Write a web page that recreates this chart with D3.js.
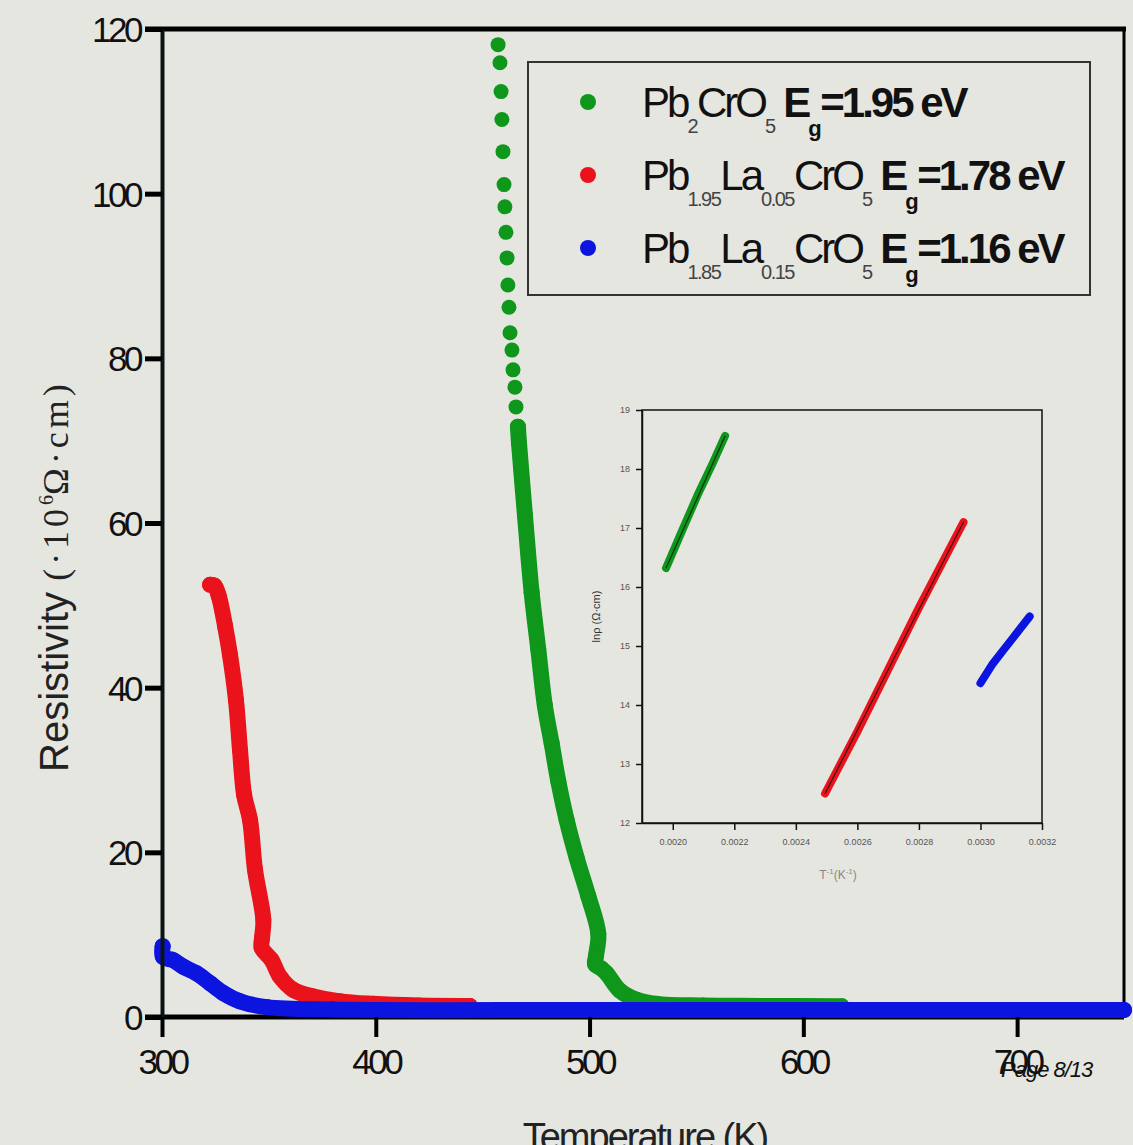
<!DOCTYPE html>
<html>
<head>
<meta charset="utf-8">
<script src="https://cdn.jsdelivr.net/npm/d3@7"></script>
<style>
  html, body { margin: 0; padding: 0; background: #e6e6e1; }
  svg { display: block; }
</style>
</head>
<body>
<svg id="chart" width="1133" height="1145"></svg>
<script>
// ---- Resistivity vs temperature, [T (K), rho (10^6 Ohm.cm)] ----
// Pb2CrO5: isolated points at the top of the steep rise
const pb2Sparse = [
  [457.2, 118.1], [458.1, 115.9], [458.6, 112.4], [459.0, 109.0], [459.5, 105.1],
  [460.0, 101.1], [460.4, 98.4], [460.9, 95.3], [461.4, 92.2], [461.8, 88.9],
  [462.3, 86.2], [462.8, 83.1], [463.7, 81.0], [464.2, 78.6], [465.1, 76.5],
  [465.6, 74.1], [466.5, 71.7]
];
// Pb2CrO5: densely sampled part
const pb2Dense = [
  [466.5, 71.7], [467.0, 69.7], [469.8, 60.9], [472.9, 51.6], [476.0, 44.7],
  [479.1, 37.8], [482.3, 33.2], [485.4, 28.6], [489.3, 23.9], [494.0, 19.3],
  [499.4, 14.7], [504.1, 10.1], [503.0, 7.4], [502.6, 6.4], [505.5, 5.9],
  [508.0, 5.3], [514.2, 3.2], [522.0, 2.1], [531.4, 1.6], [553.0, 1.4],
  [580.0, 1.35], [618.0, 1.3]
];
// Pb1.95La0.05CrO5
const la005 = [
  [322.5, 52.5], [324.5, 52.4], [326.5, 51.2], [329.5, 47.5], [331.8, 44.0],
  [334.6, 38.5], [336.5, 32.4], [338.4, 27.0], [341.2, 23.9], [343.5, 17.9],
  [347.4, 11.8], [346.8, 9.6], [346.6, 8.4], [351.3, 6.9], [355.2, 4.9],
  [361.4, 3.3], [370.8, 2.5], [383.3, 1.9], [398.7, 1.6], [420.0, 1.4],
  [444.0, 1.35]
];
// Pb1.85La0.15CrO5
const la015 = [
  [300.3, 8.6], [300.5, 7.3], [305.3, 6.9], [310.0, 6.1], [316.2, 5.3],
  [322.5, 4.1], [328.7, 2.9], [336.5, 1.9], [349.0, 1.2], [380.0, 0.9],
  [500.0, 0.85], [650.0, 0.85], [750.0, 0.85]
];

// ---- Inset: ln(rho) vs 1/T ----
const insetPb2 = [[0.001978, 16.32], [0.00203, 16.95], [0.00208, 17.55], [0.00213, 18.1], [0.00217, 18.56]];
const insetLa005 = [[0.002495, 12.5], [0.00260, 13.55], [0.00270, 14.6], [0.00280, 15.65], [0.00290, 16.65], [0.002945, 17.1]];
const insetLa015 = [[0.00300, 14.37], [0.00304, 14.7], [0.00307, 14.9], [0.00310, 15.1], [0.00313, 15.3], [0.00316, 15.5]];

// ---- Ticks ----
const xTicks = [300, 400, 500, 600, 700];
const yTicks = [0, 20, 40, 60, 80, 100, 120];
const insetXTicks = [0.0020, 0.0022, 0.0024, 0.0026, 0.0028, 0.0030, 0.0032];
const insetYTicks = [12, 13, 14, 15, 16, 17, 18, 19];

// ---- Legend ----
const seriesColors = ["#0f971c", "#ea131b", "#0c15e0"];
const legendRows = [
  [{t: "Pb"}, {t: "2", sub: true}, {t: "CrO"}, {t: "5", sub: true}, {t: " E", bold: true}, {t: "g", sub: true, bold: true}, {t: "=1.95 eV", bold: true}],
  [{t: "Pb"}, {t: "1.95", sub: true}, {t: "La"}, {t: "0.05", sub: true}, {t: "CrO"}, {t: "5", sub: true}, {t: " E", bold: true}, {t: "g", sub: true, bold: true}, {t: "=1.78 eV", bold: true}],
  [{t: "Pb"}, {t: "1.85", sub: true}, {t: "La"}, {t: "0.15", sub: true}, {t: "CrO"}, {t: "5", sub: true}, {t: " E", bold: true}, {t: "g", sub: true, bold: true}, {t: "=1.16 eV", bold: true}]
];

const svg = d3.select("#chart");
const sans = "'Liberation Sans', Arial, sans-serif";
const serif = "'Liberation Serif', 'Times New Roman', serif";

svg.append("rect").attr("width", 1133).attr("height", 1145).attr("fill", "#e6e6e1");

// ---- Main scales ----
const x = d3.scaleLinear().domain([300, 750]).range([162, 1124]);
const y = d3.scaleLinear().domain([0, 120]).range([1017, 29]);

// zero line of the y scale, partly hidden under the data
svg.append("line").attr("x1", 145).attr("x2", x(750)).attr("y1", y(0)).attr("y2", y(0))
  .attr("stroke", "#000").attr("stroke-width", 5);

// frame: top and right edges
svg.append("line").attr("x1", 145).attr("x2", 1126).attr("y1", y(120)).attr("y2", y(120))
  .attr("stroke", "#000").attr("stroke-width", 5);
svg.append("line").attr("x1", x(750)).attr("x2", x(750)).attr("y1", y(120)).attr("y2", y(0))
  .attr("stroke", "#000").attr("stroke-width", 3);

// ---- Data marks ----
const R = 8;
const line = d3.line().x(d => x(d[0])).y(d => y(d[1])).curve(d3.curveCatmullRom.alpha(0.5));

function drawBand(g, data, color) {
  g.append("path").datum(data).attr("d", line)
    .attr("fill", "none").attr("stroke", color).attr("stroke-width", 2 * R)
    .attr("stroke-linejoin", "round").attr("stroke-linecap", "round");
  g.selectAll(null).data(data).enter().append("circle")
    .attr("cx", d => x(d[0])).attr("cy", d => y(d[1])).attr("r", R).attr("fill", color);
}

const marks = svg.append("g");
const gGreen = marks.append("g");
gGreen.selectAll(null).data(pb2Sparse).enter().append("circle")
  .attr("cx", d => x(d[0])).attr("cy", d => y(d[1])).attr("r", 7.5).attr("fill", seriesColors[0]);
drawBand(gGreen, pb2Dense, seriesColors[0]);
drawBand(marks.append("g"), la005, seriesColors[1]);
drawBand(marks.append("g"), la015, seriesColors[2]);

// ---- Axes ----
const yAxis = d3.axisLeft(y).tickValues(yTicks).tickSize(17).tickSizeOuter(0).tickPadding(5)
  .tickFormat(d3.format("d"));
const yAxisG = svg.append("g").attr("transform", `translate(${x(300)},0)`).call(yAxis);
yAxisG.select(".domain").attr("stroke", "#0b1414").attr("stroke-width", 4);
yAxisG.selectAll(".tick line").attr("stroke", "#000").attr("stroke-width", 5);
yAxisG.selectAll(".tick text").attr("font-family", sans).attr("font-size", 35)
  .attr("letter-spacing", -3.5).attr("fill", "#111").attr("dy", "0.36em");

const xAxisG = svg.append("g").attr("transform", `translate(0,${y(0)})`);
xAxisG.call(d3.axisBottom(x).tickValues(xTicks).tickSize(20).tickSizeOuter(0).tickPadding(12)
  .tickFormat(d3.format("d")));
xAxisG.select(".domain").remove();
xAxisG.selectAll(".tick line").attr("stroke", "#000").attr("stroke-width", 4);
xAxisG.selectAll(".tick text").attr("font-family", sans).attr("font-size", 35)
  .attr("letter-spacing", -3.5).attr("fill", "#111");

// axis titles
svg.append("text").attr("transform", `translate(68,772) rotate(-90)`)
  .attr("text-anchor", "start").attr("font-family", sans).attr("font-size", 40).attr("fill", "#222")
  .call(t => {
    t.append("tspan").text("Resistivity ");
    t.append("tspan").attr("font-family", serif).attr("font-size", 36).attr("letter-spacing", 4).text("(·10");
    t.append("tspan").attr("font-family", serif).attr("font-size", 20).attr("dy", -15).text("6");
    t.append("tspan").attr("font-family", serif).attr("font-size", 36).attr("letter-spacing", 4).attr("dy", 15).text("Ω·cm)");
  });

svg.append("text").attr("x", 645).attr("y", 1150).attr("text-anchor", "middle")
  .attr("font-family", sans).attr("font-size", 38).attr("letter-spacing", -2).attr("fill", "#222")
  .text("Temperature (K)");

// ---- Legend ----
const leg = svg.append("g");
leg.append("rect").attr("x", 528).attr("y", 62).attr("width", 562).attr("height", 233)
  .attr("fill", "none").attr("stroke", "#333").attr("stroke-width", 2);
const rowY = [117, 190, 263];
legendRows.forEach((row, i) => {
  leg.append("circle").attr("cx", 588).attr("cy", rowY[i] - 15).attr("r", 8).attr("fill", seriesColors[i]);
  const t = leg.append("text").attr("x", 642).attr("y", rowY[i])
    .attr("font-family", sans).attr("font-size", 42).attr("letter-spacing", -3).attr("fill", "#111");
  let shift = 0;
  row.forEach(seg => {
    const s = t.append("tspan").text(seg.t);
    const target = seg.sub ? (seg.bold ? 19 : 16) : 0;
    if (target !== shift) { s.attr("dy", target - shift); shift = target; }
    if (seg.sub) s.attr("font-size", seg.bold ? 22 : 20).attr("letter-spacing", -1.5)
      .attr("fill", seg.bold ? "#111" : "#444");
    if (seg.bold) s.attr("font-weight", "bold");
  });
});

// ---- Inset ----
const ix = d3.scaleLinear().domain([0.0019, 0.0032]).range([642, 1042]);
const iy = d3.scaleLinear().domain([12, 19]).range([823, 410]);
const inset = svg.append("g");
inset.append("rect").attr("x", ix(0.0019)).attr("y", iy(19)).attr("width", ix(0.0032) - ix(0.0019))
  .attr("height", iy(12) - iy(19)).attr("fill", "none").attr("stroke", "#111").attr("stroke-width", 1.5);
const iyAxis = inset.append("g").attr("transform", `translate(${ix(0.0019)},0)`)
  .call(d3.axisLeft(iy).tickValues(insetYTicks).tickSize(6).tickSizeOuter(0).tickPadding(6).tickFormat(d3.format("d")));
const ixAxis = inset.append("g").attr("transform", `translate(0,${iy(12)})`)
  .call(d3.axisBottom(ix).tickValues(insetXTicks).tickSize(7).tickSizeOuter(0).tickPadding(9).tickFormat(d3.format(".4f")));
[iyAxis, ixAxis].forEach(a => {
  a.select(".domain").attr("stroke", "#111").attr("stroke-width", 1.5);
  a.selectAll(".tick line").attr("stroke", "#111").attr("stroke-width", 1.5);
  a.selectAll(".tick text").attr("font-family", sans).attr("font-size", 9).attr("fill", "#555");
});
inset.append("text").attr("transform", `translate(600,${(iy(12) + iy(19)) / 2}) rotate(-90)`)
  .attr("text-anchor", "middle").attr("font-family", sans).attr("font-size", 11).attr("fill", "#333")
  .text("lnρ (Ω·cm)");
inset.append("text").attr("x", 838).attr("y", 879).attr("text-anchor", "middle")
  .attr("font-family", sans).attr("font-size", 12).attr("fill", "#888")
  .call(t => {
    t.append("tspan").text("T");
    t.append("tspan").attr("font-size", 8).attr("dy", -5).text("-1");
    t.append("tspan").attr("dy", 5).text("(K");
    t.append("tspan").attr("font-size", 8).attr("dy", -5).text("-1");
    t.append("tspan").attr("dy", 5).text(")");
  });

const iline = d3.line().x(d => ix(d[0])).y(d => iy(d[1]));
[[insetPb2, seriesColors[0], true], [insetLa005, seriesColors[1], true], [insetLa015, seriesColors[2], false]]
  .forEach(([data, color, fit]) => {
    inset.append("path").datum(data).attr("d", iline).attr("fill", "none").attr("stroke", color)
      .attr("stroke-width", 8).attr("stroke-linecap", "round").attr("stroke-linejoin", "round");
    if (fit) {
      inset.append("path").datum([data[0], data[data.length - 1]]).attr("d", iline)
        .attr("fill", "none").attr("stroke", "#111").attr("stroke-width", 1.2).attr("opacity", 0.8);
    }
  });

// page footer
svg.append("text").attr("x", 1001).attr("y", 1077).attr("font-family", sans).attr("font-style", "italic")
  .attr("font-size", 22).attr("letter-spacing", -1).attr("fill", "#111").text("Page 8/13");
</script>
</body>
</html>
